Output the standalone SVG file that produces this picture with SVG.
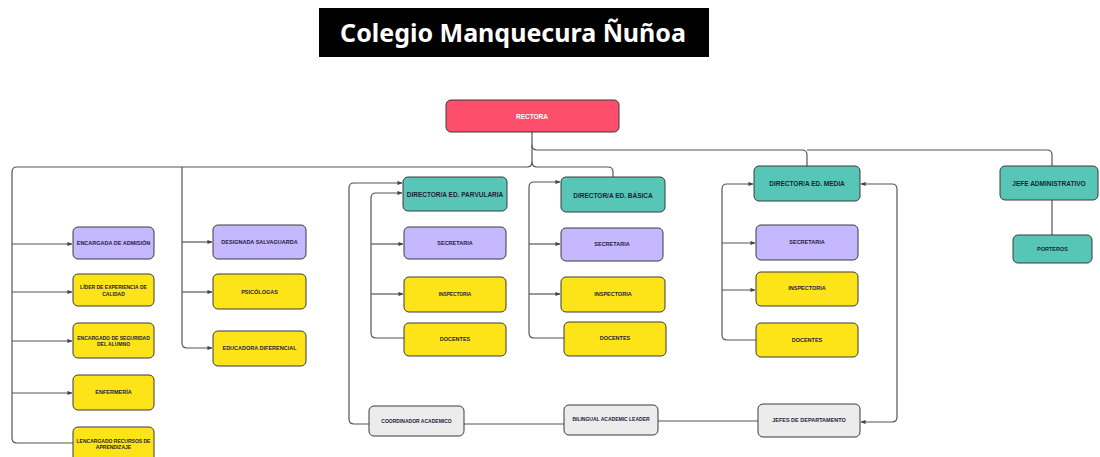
<svg xmlns="http://www.w3.org/2000/svg" width="1100" height="457" viewBox="0 0 1100 457">
<defs>
<marker id="arr" viewBox="0 0 6 6" refX="5.5" refY="3" markerWidth="5" markerHeight="5" orient="auto-start-reverse" markerUnits="userSpaceOnUse">
<path d="M0,0.5 L6,3 L0,5.5 z" fill="#444"/>
</marker>
<style>
.bx{stroke:#3a3a3a;stroke-width:1}
.pink{fill:#fd4f6b}
.teal{fill:#58c6b6}
.lav{fill:#c5b8ff}
.yel{fill:#fde418}
.gry{fill:#ececec}
.t{font-family:"Liberation Sans",Arial,sans-serif;font-weight:bold;font-size:5.5px;fill:#1f1d3d;text-anchor:middle;dominant-baseline:central}
.ts{font-size:5px}
.td{font-size:6.5px}
.tw{fill:#ffffff;font-size:6.5px}
.c{fill:none;stroke:#555;stroke-width:1.2}
.ca{fill:none;stroke:#555;stroke-width:1.2;marker-end:url(#arr)}
</style>
</defs>
<rect width="1100" height="457" fill="#ffffff"/>
<g id="title">
<rect x="319" y="8" width="390" height="49" fill="#000"/>
<text x="513" y="42" font-family="'Noto Sans','Open Sans',sans-serif" font-weight="bold" font-size="25" fill="#fff" text-anchor="middle">Colegio Manquecura Ñuñoa</text>
</g>
<g id="connectors">
<path class="c" d="M532,132 V162 Q532,167 527,167 H17 Q12,167 12,172 V438 Q12,443 17,443 H73"/>
<path class="c" d="M532,145 Q532,150 537,150 H802 Q807,150 807,155 V166"/>
<path class="c" d="M807,150 H1047 Q1052,150 1052,155 V166"/>
<path class="c" d="M532,162 Q532,167 537,167 H608 Q613,167 613,172 V177"/>
<path class="ca" d="M12,244 H72"/>
<path class="ca" d="M12,292 H72"/>
<path class="ca" d="M12,341 H72"/>
<path class="ca" d="M12,393 H72"/>
<path class="ca" d="M182,167 V343 Q182,348 187,348 H212"/>
<path class="ca" d="M182,242 H212"/>
<path class="ca" d="M182,292 H212"/>
<path class="ca" d="M404,338 H376 Q371,338 371,333 V198 Q371,193 376,193 H402"/>
<path class="ca" d="M371,244 H403"/>
<path class="ca" d="M371,294 H403"/>
<path class="ca" d="M369,424 H354 Q349,424 349,419 V188 Q349,183 354,183 H402"/>
<path class="ca" d="M564,338 H534 Q529,338 529,333 V187 Q529,182 534,182 H560"/>
<path class="ca" d="M529,244 H560"/>
<path class="ca" d="M529,294 H560"/>
<path class="ca" d="M756,340 H727 Q722,340 722,335 V189 Q722,184 727,184 H753"/>
<path class="ca" d="M722,243 H755"/>
<path class="ca" d="M722,290 H755"/>
<path class="ca" style="marker-start:url(#arr)" d="M861,184 H892 Q897,184 897,189 V417 Q897,422 892,422 H861"/>
<path class="c" d="M464,424 H564"/>
<path class="c" d="M658,421 H758"/>
<path class="c" d="M1052,200 V235"/>
</g>
<g id="rectora"><rect class="bx pink" x="446" y="100" width="173" height="32" rx="5"/><text class="t tw" x="532" y="116">RECTORA</text></g>
<g id="admision"><rect class="bx lav" x="73" y="227" width="81" height="32" rx="5"/><text class="t" x="113.5" y="243">ENCARGADA DE ADMISIÓN</text></g>
<g id="lider"><rect class="bx yel" x="73" y="274" width="81" height="32" rx="5"/><text class="t ts" x="113.5" y="287">LÍDER DE EXPERIENCIA DE</text><text class="t ts" x="113.5" y="294">CALIDAD</text></g>
<g id="seguridad"><rect class="bx yel" x="73" y="323" width="81" height="35" rx="5"/><text class="t ts" x="113.5" y="338">ENCARGADO DE SEGURIDAD</text><text class="t ts" x="113.5" y="344">DEL ALUMNO</text></g>
<g id="enfermeria"><rect class="bx yel" x="73" y="375" width="81" height="35" rx="5"/><text class="t" x="113.5" y="392">ENFERMERÍA</text></g>
<g id="recursos"><rect class="bx yel" x="73" y="427" width="81" height="36" rx="5"/><text class="t ts" x="113.5" y="441">LENCARGADO RECURSOS DE</text><text class="t ts" x="113.5" y="447">APRENDIZAJE</text></g>
<g id="salvaguarda"><rect class="bx lav" x="213" y="225" width="93" height="34" rx="5"/><text class="t" x="259.5" y="242">DESIGNADA SALVAGUARDA</text></g>
<g id="psicologas"><rect class="bx yel" x="213" y="274" width="93" height="35" rx="5"/><text class="t" x="259.5" y="292">PSICÓLOGAS</text></g>
<g id="educadora"><rect class="bx yel" x="213" y="331" width="93" height="35" rx="5"/><text class="t" x="259.5" y="348">EDUCADORA DIFERENCIAL</text></g>
<g id="dir-parvularia"><rect class="bx teal" x="403" y="177" width="104" height="34" rx="5"/><text class="t td" x="455" y="194">DIRECTOR/A ED. PARVULARIA</text></g>
<g id="sec-parvularia"><rect class="bx lav" x="404" y="227" width="102" height="32" rx="5"/><text class="t" x="455" y="243">SECRETARIA</text></g>
<g id="insp-parvularia"><rect class="bx yel" x="404" y="277" width="102" height="35" rx="5"/><text class="t" x="455" y="294" style="font-size:4.8px">INSPECTORIA</text></g>
<g id="doc-parvularia"><rect class="bx yel" x="404" y="323" width="102" height="33" rx="5"/><text class="t" x="455" y="339">DOCENTES</text></g>
<g id="dir-basica"><rect class="bx teal" x="561" y="177" width="104" height="35" rx="5"/><text class="t td" x="613" y="195">DIRECTOR/A ED. BÁSICA</text></g>
<g id="sec-basica"><rect class="bx lav" x="561" y="228" width="102" height="33" rx="5"/><text class="t" x="612" y="244">SECRETARIA</text></g>
<g id="insp-basica"><rect class="bx yel" x="561" y="277" width="104" height="35" rx="5"/><text class="t" x="613" y="294">INSPECTORIA</text></g>
<g id="doc-basica"><rect class="bx yel" x="564" y="322" width="102" height="34" rx="5"/><text class="t" x="615" y="338">DOCENTES</text></g>
<g id="dir-media"><rect class="bx teal" x="754" y="166" width="106" height="35" rx="5"/><text class="t td" x="807" y="183">DIRECTOR/A ED. MEDIA</text></g>
<g id="sec-media"><rect class="bx lav" x="756" y="225" width="102" height="35" rx="5"/><text class="t" x="807" y="242">SECRETARIA</text></g>
<g id="insp-media"><rect class="bx yel" x="756" y="272" width="102" height="34" rx="5"/><text class="t" x="807" y="288">INSPECTORIA</text></g>
<g id="doc-media"><rect class="bx yel" x="756" y="323" width="102" height="34" rx="5"/><text class="t" x="807" y="340">DOCENTES</text></g>
<g id="jefe-admin"><rect class="bx teal" x="1000" y="166" width="98" height="34" rx="5"/><text class="t td" x="1049" y="183">JEFE ADMINISTRATIVO</text></g>
<g id="porteros"><rect class="bx teal" x="1013" y="235" width="79" height="28" rx="5"/><text class="t" x="1052.5" y="249">PORTEROS</text></g>
<g id="coordinador"><rect class="bx gry" x="369" y="406" width="95" height="30" rx="5"/><text class="t ts" x="416.5" y="421">COORDINADOR ACADEMICO</text></g>
<g id="bilingual"><rect class="bx gry" x="564" y="405" width="94" height="30" rx="5"/><text class="t ts" x="611" y="419">BILINGUAL ACADEMIC LEADER</text></g>
<g id="jefes-depto"><rect class="bx gry" x="758" y="404" width="102" height="33" rx="5"/><text class="t" x="809" y="420">JEFES DE DEPARTAMENTO</text></g>
</svg>
